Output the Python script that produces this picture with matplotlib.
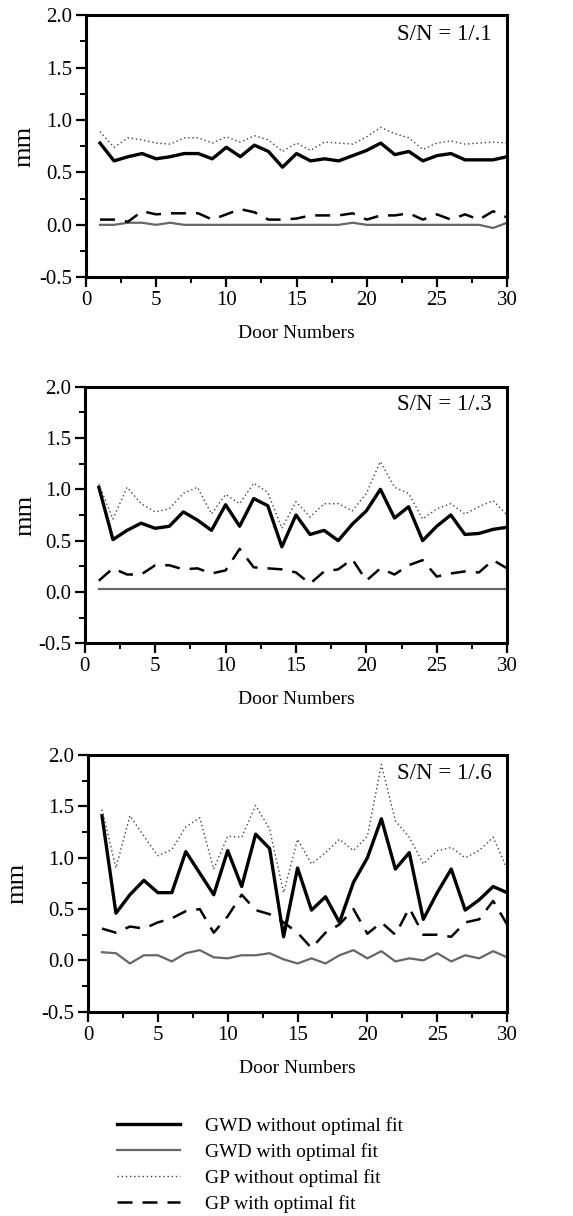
import matplotlib
matplotlib.use('Agg')
import matplotlib.pyplot as plt
from matplotlib.lines import Line2D
import numpy as np

matplotlib.rcParams['font.family'] = ['Liberation Serif', 'DejaVu Serif']
matplotlib.rcParams['font.size'] = 15

doors = np.arange(1, 31)

# S/N = 1/.1
gwd_wo_1 = [0.78, 0.61, 0.65, 0.68, 0.63, 0.65, 0.68, 0.68, 0.63, 0.74,
            0.65, 0.76, 0.70, 0.55, 0.68, 0.61, 0.63, 0.61, 0.66, 0.71,
            0.78, 0.67, 0.70, 0.61, 0.66, 0.68, 0.62, 0.62, 0.62, 0.65]
gwd_w_1 = [0.00, 0.00, 0.02, 0.02, 0.00, 0.02, 0.00, 0.00, 0.00, 0.00,
           0.00, 0.00, 0.00, 0.00, 0.00, 0.00, 0.00, 0.00, 0.02, 0.00,
           0.00, 0.00, 0.00, 0.00, 0.00, 0.00, 0.00, 0.00, -0.03, 0.02]
gp_wo_1 = [0.89, 0.74, 0.83, 0.81, 0.78, 0.77, 0.83, 0.83, 0.78, 0.84,
           0.79, 0.85, 0.81, 0.70, 0.78, 0.71, 0.79, 0.78, 0.77, 0.84,
           0.93, 0.87, 0.83, 0.72, 0.78, 0.80, 0.77, 0.78, 0.79, 0.78]
gp_w_1 = [0.05, 0.05, 0.03, 0.13, 0.10, 0.11, 0.11, 0.11, 0.05, 0.10,
          0.15, 0.12, 0.05, 0.05, 0.06, 0.09, 0.09, 0.09, 0.11, 0.05,
          0.09, 0.09, 0.11, 0.05, 0.10, 0.05, 0.10, 0.05, 0.13, 0.07]

# S/N = 1/.3
gwd_wo_3 = [1.02, 0.51, 0.60, 0.67, 0.62, 0.64, 0.78, 0.70, 0.60, 0.85,
            0.64, 0.91, 0.84, 0.44, 0.75, 0.56, 0.60, 0.50, 0.66, 0.79,
            1.00, 0.72, 0.83, 0.50, 0.64, 0.75, 0.56, 0.57, 0.61, 0.63]
gwd_w_3 = [0.03] * 30
gp_wo_3 = [1.05, 0.71, 1.02, 0.86, 0.78, 0.81, 0.96, 1.02, 0.76, 0.95,
           0.86, 1.06, 0.97, 0.62, 0.88, 0.73, 0.86, 0.86, 0.79, 0.96,
           1.27, 1.02, 0.96, 0.71, 0.81, 0.86, 0.76, 0.83, 0.89, 0.75]
gp_w_3 = [0.11, 0.23, 0.17, 0.17, 0.26, 0.26, 0.22, 0.23, 0.18, 0.21,
          0.42, 0.24, 0.23, 0.22, 0.19, 0.08, 0.20, 0.22, 0.32, 0.11,
          0.23, 0.17, 0.26, 0.31, 0.15, 0.18, 0.20, 0.19, 0.31, 0.23]

# S/N = 1/.6
gwd_wo_6 = [1.41, 0.46, 0.64, 0.78, 0.66, 0.66, 1.06, 0.85, 0.64, 1.07,
            0.72, 1.23, 1.09, 0.23, 0.90, 0.49, 0.62, 0.37, 0.76, 1.00,
            1.38, 0.89, 1.05, 0.40, 0.66, 0.89, 0.49, 0.59, 0.72, 0.66]
gwd_w_6 = [0.08, 0.07, -0.03, 0.05, 0.05, -0.01, 0.07, 0.10, 0.03, 0.02,
           0.05, 0.05, 0.07, 0.01, -0.03, 0.02, -0.03, 0.05, 0.10, 0.02,
           0.09, -0.01, 0.02, 0.00, 0.07, -0.01, 0.05, 0.02, 0.09, 0.03]
gp_wo_6 = [1.47, 0.90, 1.41, 1.21, 1.02, 1.08, 1.30, 1.39, 0.89, 1.21,
           1.20, 1.51, 1.28, 0.66, 1.18, 0.94, 1.05, 1.18, 1.07, 1.21,
           1.91, 1.36, 1.20, 0.94, 1.07, 1.10, 1.00, 1.07, 1.20, 0.89]
gp_w_6 = [0.31, 0.27, 0.33, 0.31, 0.37, 0.41, 0.48, 0.50, 0.27, 0.43,
          0.64, 0.49, 0.45, 0.37, 0.27, 0.12, 0.27, 0.35, 0.50, 0.26,
          0.37, 0.25, 0.51, 0.25, 0.25, 0.23, 0.37, 0.40, 0.58, 0.35]

panels = [("S/N = 1/.1", gwd_wo_1, gwd_w_1, gp_wo_1, gp_w_1),
          ("S/N = 1/.3", gwd_wo_3, gwd_w_3, gp_wo_3, gp_w_3),
          ("S/N = 1/.6", gwd_wo_6, gwd_w_6, gp_wo_6, gp_w_6)]

legend_labels = ["GWD without optimal fit", "GWD with optimal fit",
                 "GP without optimal fit", "GP with optimal fit"]

styles = [dict(color='black', lw=2.4, ls='-'),
          dict(color='0.4', lw=1.6, ls='-'),
          dict(color='0.25', lw=1.0, ls=(0, (1, 2))),
          dict(color='black', lw=1.8, ls=(0, (6, 4)))]

fig = plt.figure(figsize=(5.73, 12.16), dpi=100)

# axes boxes in figure fractions: [left, bottom, width, height]
boxes = [[0.150, 0.772, 0.735, 0.2155],
         [0.148, 0.471, 0.737, 0.211],
         [0.1536, 0.168, 0.7314, 0.211]]
label_x = [-0.121, -0.114, -0.143]
text_y = [0.965, 0.972, 0.968]

for (title, *series), box, lx, ty in zip(panels, boxes, label_x, text_y):
    ax = fig.add_axes(box)
    for ys, st in zip(series, styles):
        ax.plot(doors, ys, **st)
    ax.set_xlim(0, 30)
    ax.set_ylim(-0.5, 2.0)
    ax.set_xticks(np.arange(0, 31, 5))
    ax.set_xticks(np.arange(0, 31, 2.5), minor=True)
    ax.set_yticks(np.arange(-0.5, 2.01, 0.5))
    ax.set_yticks(np.arange(-0.5, 2.01, 0.25), minor=True)
    ax.set_yticklabels(["%.1f" % v for v in np.arange(-0.5, 2.01, 0.5)])
    ax.tick_params(which='major', direction='out', length=7, width=1.6, pad=3)
    ax.tick_params(which='minor', direction='out', length=4, width=1.4)
    for sp in ax.spines.values():
        sp.set_linewidth(2.2)
    ax.set_ylabel("mm", fontsize=19)
    ax.yaxis.set_label_coords(lx, 0.5)
    ax.set_xlabel("Door Numbers", fontsize=14, labelpad=11)
    ax.text(0.964, ty, title, transform=ax.transAxes, ha='right', va='top',
            fontsize=16.5)

handles = [Line2D([], [], **st) for st in styles]
fig.legend(handles, legend_labels, loc='upper left',
           bbox_to_anchor=(117 / 573, (1216 - 1117) / 1216),
           frameon=False, fontsize=14, handlelength=3.25, handletextpad=1.3,
           labelspacing=0.42, borderpad=0, borderaxespad=0)

fig.savefig("out.png", dpi=100)
